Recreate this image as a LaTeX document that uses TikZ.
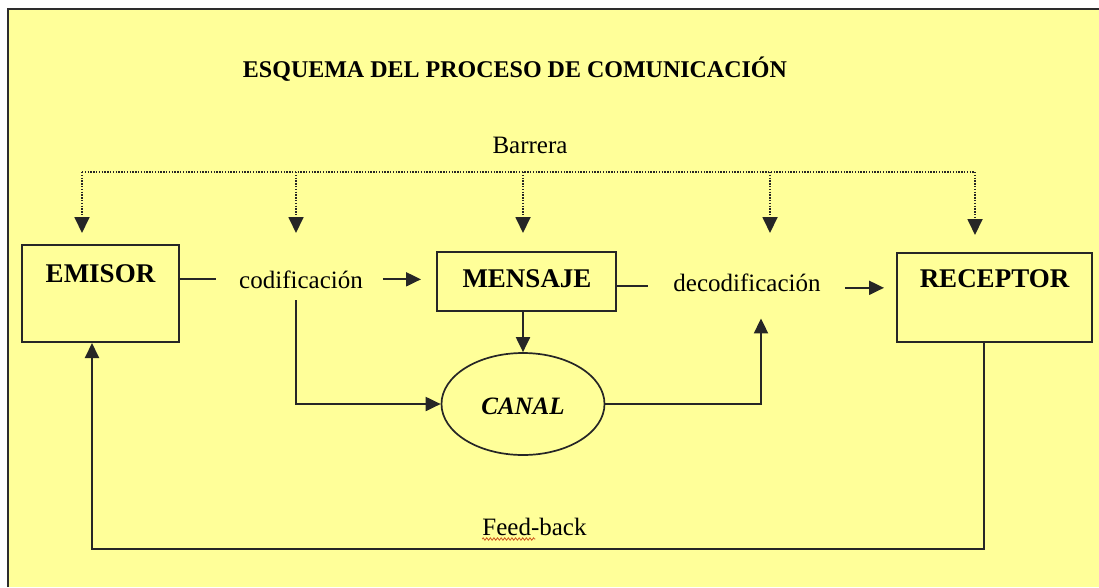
\documentclass[tikz,border=0pt]{standalone}
\usepackage{fontspec}
\setmainfont{Liberation Serif}
\usetikzlibrary{arrows.meta,shapes.geometric,decorations.pathmorphing,calc}
\definecolor{bgyellow}{RGB}{255,255,153}
\definecolor{framegray}{RGB}{45,45,45}
\definecolor{squig}{RGB}{205,85,30}
\begin{document}
\begin{tikzpicture}[x=1pt,y=-1pt,
  conn/.style={draw=black!85, line width=2pt},
  arr/.style={conn, -{Triangle[length=15pt,width=14pt]}},
  dotarr/.style={draw=black!85, line width=1.8pt, dash pattern=on 1.4pt off 1.4pt, -{Triangle[length=16pt,width=15pt]}},
  dotline/.style={draw=black!85, line width=1.8pt, dash pattern=on 1.4pt off 1.4pt},
  boxframe/.style={draw=black!85, line width=2pt, rectangle, inner sep=0pt},
  boxlbl/.style={font=\fontsize{27}{30}\selectfont\bfseries, inner sep=0pt, anchor=base},
  lbl/.style={font=\fontsize{25}{28}\selectfont, inner sep=0pt, anchor=base},
  titlelbl/.style={font=\fontsize{24}{28}\selectfont\bfseries, inner sep=0pt, anchor=base}
]
\useasboundingbox (0,0) rectangle (1099,587);
\fill[white] (0,0) rectangle (1099,587);
\fill[bgyellow] (8,9) rectangle (1099,587);
\draw[framegray, line width=2pt] (8,587) -- (8,9) -- (1099,9);

% title and barrier label
\node[titlelbl] (title) at (515,77) {ESQUEMA DEL PROCESO DE COMUNICACIÓN};
\node[lbl] (barrera) at (530,153) {Barrera};

% boxes
\node[boxframe, minimum width=157pt, minimum height=97pt] (emisor) at (100,293.5) {};
\node[boxlbl] (emisorT) at (100.5,282) {EMISOR};
\node[boxframe, minimum width=179pt, minimum height=59pt] (msg) at (526.5,281.5) {};
\node[boxlbl] (msgT) at (527,287) {MENSAJE};
\node[boxframe, minimum width=195pt, minimum height=89pt] (rec) at (994.5,297.5) {};
\node[boxlbl] (recT) at (994.5,287) {RECEPTOR};

% canal
\node[ellipse, draw=black!85, line width=1.7pt, minimum width=163pt, minimum height=102pt, inner sep=0pt] (canal) at (523,404) {};
\node[font=\fontsize{25}{28}\selectfont\bfseries\itshape, inner sep=0pt, anchor=base] (canalT) at (523,414) {CANAL};

% text labels
\node[lbl] (cod) at (301,288) {codificación};
\node[lbl] (decod) at (747,291) {decodificación};
\node[lbl] (fb) at (534.5,535) {Feed-back};
\draw[squig, line width=0.8pt, decorate, decoration={zigzag, amplitude=1.2pt, segment length=3.6pt}]
  ([yshift=-4pt]fb.base west) -- ++(53,0);

% barrier dotted lines
\coordinate (b1) at (82,172);
\coordinate (b2) at (296,172);
\coordinate (b3) at (523,172);
\coordinate (b4) at (770,172);
\coordinate (b5) at (975,172);
\coordinate (d1) at (82,233);
\coordinate (d2) at (296,233);
\coordinate (d3) at (523,233);
\coordinate (d4) at (770,233);
\coordinate (d5) at (975,235);
\draw[dotline] (b1) -- (b5);
\draw[dotarr] (b1) -- (d1);
\draw[dotarr] (b2) -- (d2);
\draw[dotarr] (b3) -- (d3);
\draw[dotarr] (b4) -- (d4);
\draw[dotarr] (b5) -- (d5);

% main flow
\draw[conn] (emisor.east |- cod.center) -- ([xshift=-23pt]cod.west);
\draw[arr] ([xshift=20pt]cod.east) -- ([xshift=-15pt]msg.west |- cod.center);
\draw[conn] ([yshift=-4.5pt]msg.east) -- ++(31,0);
\draw[arr] ([xshift=24pt,yshift=-5.5pt]decod.east) -- ([xshift=-12pt,yshift=-5.5pt]rec.west |- decod.center);
\draw[arr] (msg.south -| canal.north) -- (canal.north);
\draw[arr] ([xshift=-5pt,yshift=-12pt]cod.south) |- (canal.west);
\draw[arr] (canal.east) -| ([xshift=14pt,yshift=-27pt]decod.south);

% feedback
\draw[arr] ([xshift=-10.5pt]rec.south) -- ++(0,206) -| ([xshift=-8pt]emisor.south);
\end{tikzpicture}
\end{document}
